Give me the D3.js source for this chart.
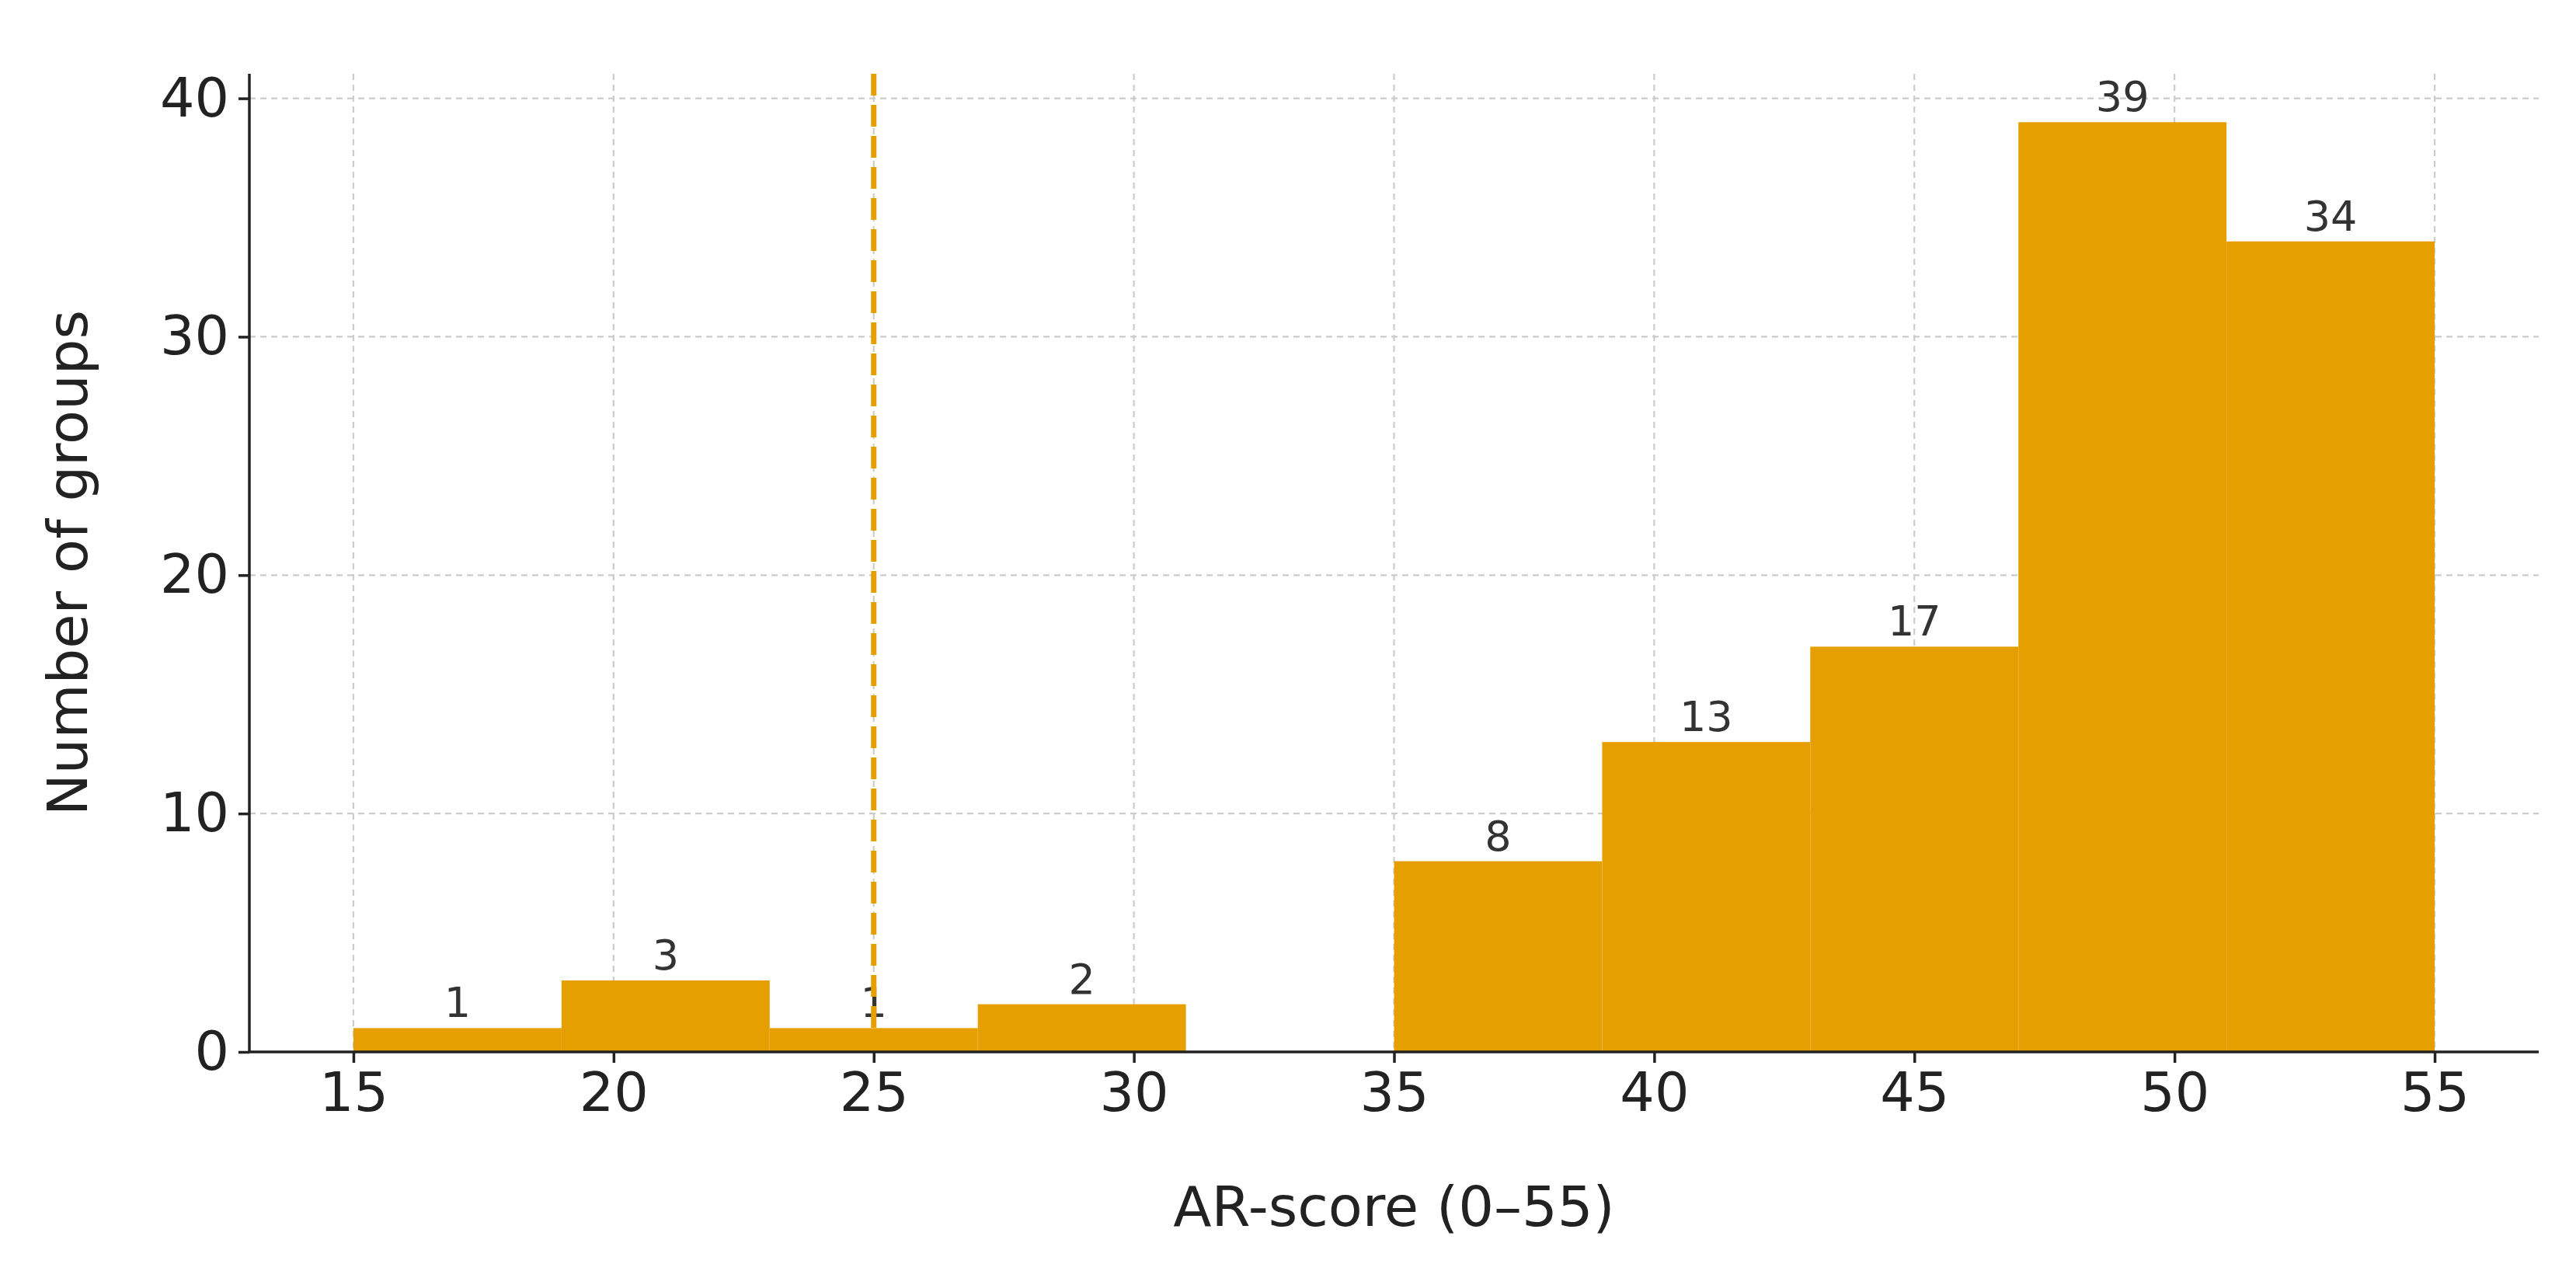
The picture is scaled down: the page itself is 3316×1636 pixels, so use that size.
<!DOCTYPE html>
<html><head><meta charset="utf-8">
<script src="https://cdn.jsdelivr.net/npm/d3@7"></script>
<style>body{margin:0;background:#fff}</style>
</head><body><div id="chart"></div>
<script>
// histogram bins (AR-score) and counts
const binStarts = [15, 19, 23, 27, 31, 35, 39, 43, 47, 51];
const binWidth = 4;
const counts = [1, 3, 1, 2, 0, 8, 13, 17, 39, 34];
const xTicks = [15, 20, 25, 30, 35, 40, 45, 50, 55];
const yTicks = [0, 10, 20, 30, 40];
const cutoff = 25;

const W = 3316, H = 1636;
const margin = {top: 95, right: 48, bottom: 282, left: 321};
const w = W - margin.left - margin.right;
const h = H - margin.top - margin.bottom;
const color = "#E69F00";

const svg = d3.select("#chart").append("svg")
  .attr("width", W).attr("height", H)
  .style("font-family", "DejaVu Sans, sans-serif");
const g = svg.append("g").attr("transform", `translate(${margin.left},${margin.top})`);

const x = d3.scaleLinear().domain([13, 57]).range([0, w]);
const y = d3.scaleLinear().domain([0, 41.03]).range([h, 0]);

// grid
g.selectAll(".gx").data(xTicks).enter().append("line")
  .attr("x1", d => x(d)).attr("x2", d => x(d)).attr("y1", 0).attr("y2", h)
  .attr("stroke", "#ccc").attr("stroke-width", 2.2).attr("stroke-dasharray", "8,6");
g.selectAll(".gy").data(yTicks).enter().append("line")
  .attr("y1", d => y(d)).attr("y2", d => y(d)).attr("x1", 0).attr("x2", w)
  .attr("stroke", "#ccc").attr("stroke-width", 2.2).attr("stroke-dasharray", "8,6");

// bars
const data = binStarts.map((s, i) => ({s, c: counts[i]}));
g.selectAll(".bar").data(data.filter(d => d.c > 0)).enter().append("rect")
  .attr("x", d => x(d.s)).attr("width", d => x(d.s + binWidth) - x(d.s))
  .attr("y", d => y(d.c)).attr("height", d => h - y(d.c))
  .attr("fill", color);

// count labels
g.selectAll(".lbl").data(data.filter(d => d.c > 0)).enter().append("text")
  .attr("x", d => x(d.s + binWidth / 2)).attr("y", d => y(d.c) - 14)
  .attr("text-anchor", "middle").attr("font-size", 54).attr("fill", "#333")
  .text(d => d.c);

// cutoff line
g.append("line").attr("x1", x(cutoff)).attr("x2", x(cutoff)).attr("y1", 0).attr("y2", h)
  .attr("stroke", color).attr("stroke-width", 7).attr("stroke-dasharray", "28,12");

// axes
const xa = g.append("g").attr("transform", `translate(0,${h})`)
  .call(d3.axisBottom(x).tickValues(xTicks).tickSizeOuter(0).tickSize(14).tickPadding(12));
const ya = g.append("g")
  .call(d3.axisLeft(y).tickValues(yTicks).tickSizeOuter(0).tickSize(14).tickPadding(12));
[xa, ya].forEach(a => {
  a.selectAll("path,line").attr("stroke", "#222").attr("stroke-width", 3.5);
  a.selectAll("text").attr("font-size", 70).attr("fill", "#222").style("font-family", "DejaVu Sans, sans-serif");
});
xa.select("path").attr("d", `M0,0H${w}`);
ya.select("path").attr("d", `M0,${h}V0`);

svg.append("text").attr("x", margin.left + x(35)).attr("y", 1578)
  .attr("text-anchor", "middle").attr("font-size", 72).attr("fill", "#222")
  .text("AR-score (0–55)");
svg.append("text").attr("transform", `translate(112,${margin.top + h / 2}) rotate(-90)`)
  .attr("text-anchor", "middle").attr("font-size", 72).attr("fill", "#222")
  .text("Number of groups");
</script></body></html>
